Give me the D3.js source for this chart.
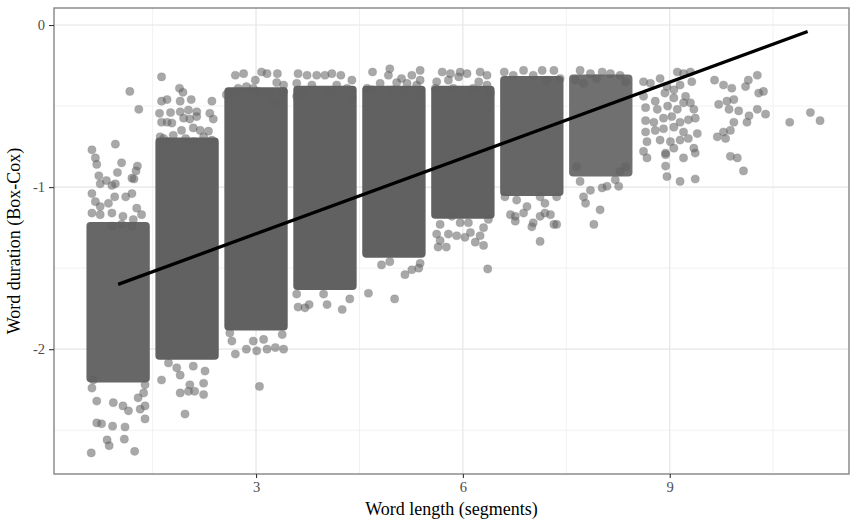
<!DOCTYPE html>
<html>
<head>
<meta charset="utf-8">
<script src="https://cdn.jsdelivr.net/npm/d3@7"></script>
<style>
  body { margin: 0; background: #fff; }
  svg { display: block; }
</style>
</head>
<body>
<svg></svg>
<script>
// word lengths (segments) and the extent of the solid jittered cloud in each column
const wordLength = [1, 2, 3, 4, 5, 6, 7, 8, 9, 10, 11];
const coreTop    = [-1.24, -0.72, -0.41, -0.40, -0.40, -0.40, -0.34, -0.33, null, null, null];
const coreBottom = [-2.18, -2.04, -1.86, -1.61, -1.41, -1.17, -1.03, -0.91, null, null, null];
const jitterHalf = 0.4;

// linear fit
const fitX = [1, 11];
const fitY = [-1.60, -0.04];

// axis ticks
const xTicks = [3, 6, 9];
const yTicks = [0, -1, -2];
const xMinor = [1.5, 4.5, 7.5, 10.5];
const yMinor = [-0.5, -1.5, -2.5];

// individual points outside the solid clouds [length (jittered), duration]
const strayPoints = [
  // 1
  [1.17,-0.41],[1.30,-0.52],[0.96,-0.735],[0.62,-0.77],[0.67,-0.82],[0.69,-0.86],[1.05,-0.85],[1.28,-0.87],
  [1.26,-0.90],[0.72,-0.93],[0.99,-0.91],[0.83,-0.96],[0.74,-0.98],[0.91,-0.99],[0.96,-0.98],[1.20,-0.945],
  [1.23,-0.95],[0.62,-1.04],[1.11,-1.06],[1.20,-1.04],[0.67,-1.09],[0.95,-1.06],[0.86,-1.10],[0.74,-1.12],
  [1.27,-1.13],[0.62,-1.16],[0.74,-1.17],[0.91,-1.16],[1.07,-1.18],[1.22,-1.20],[1.34,-1.17],[0.91,-1.24],
  [1.05,-1.23],[1.20,-1.24],[0.64,-2.19],[0.62,-2.24],[1.39,-2.22],[1.37,-2.27],[0.69,-2.32],[0.93,-2.33],
  [1.07,-2.35],[1.29,-2.30],[1.15,-2.38],[1.32,-2.37],[1.39,-2.35],[1.39,-2.43],[0.69,-2.455],[0.76,-2.46],
  [0.92,-2.475],[1.10,-2.48],[0.84,-2.56],[1.09,-2.555],[0.87,-2.595],[0.61,-2.64],[1.24,-2.63],
  // 2
  [1.63,-0.32],[1.89,-0.39],[1.94,-0.415],[1.63,-0.47],[1.71,-0.46],[1.90,-0.47],[2.06,-0.46],[2.36,-0.47],
  [1.60,-0.545],[1.76,-0.54],[1.90,-0.535],[2.02,-0.525],[2.14,-0.535],[2.33,-0.545],[2.38,-0.58],[1.63,-0.60],
  [1.71,-0.60],[1.78,-0.605],[1.95,-0.575],[2.04,-0.58],[2.14,-0.565],[1.61,-0.69],[1.92,-0.65],[2.09,-0.635],
  [2.19,-0.65],[2.31,-0.655],[1.66,-0.70],[1.80,-0.68],[1.98,-0.70],[2.24,-0.69],[2.36,-0.71],[1.72,-0.72],
  [2.10,-0.72],[1.63,-2.19],[1.73,-2.085],[1.85,-2.115],[1.90,-2.16],[2.09,-2.105],[2.26,-2.135],[2.24,-2.21],
  [2.04,-2.22],[1.90,-2.27],[2.02,-2.26],[2.11,-2.26],[2.24,-2.28],[1.97,-2.40],
  // 3
  [2.70,-0.31],[2.82,-0.30],[3.08,-0.29],[3.16,-0.30],[3.31,-0.30],[2.99,-0.34],[3.30,-0.355],[3.40,-0.37],
  [2.62,-0.42],[2.74,-0.39],[2.86,-0.38],[2.96,-0.39],[3.03,-0.41],[3.18,-0.42],[3.40,-0.41],[2.57,-0.43],
  [3.25,-0.48],[3.35,-0.47],[2.65,-1.95],[2.70,-2.03],[2.86,-2.00],[3.01,-2.01],[3.16,-2.00],[3.28,-1.99],
  [3.40,-2.00],[2.96,-1.95],[3.11,-1.94],[3.05,-2.23],[2.62,-1.90],[3.38,-1.91],
  // 4
  [3.61,-0.30],[3.74,-0.31],[3.88,-0.31],[4.00,-0.31],[4.10,-0.30],[4.23,-0.31],[4.39,-0.34],[3.59,-0.36],
  [3.81,-0.37],[4.17,-0.37],[4.32,-0.39],[3.69,-0.42],[4.07,-0.42],[4.39,-0.45],[3.59,-0.44],
  [3.61,-1.74],[3.71,-1.745],[3.77,-1.725],[4.03,-1.725],[4.25,-1.755],[4.36,-1.69],[3.98,-1.66],[3.59,-1.66],
  // 5
  [4.69,-0.29],[4.94,-0.27],[5.38,-0.28],[4.92,-0.31],[5.11,-0.33],[5.26,-0.31],[5.38,-0.34],[4.80,-0.36],
  [5.04,-0.355],[5.19,-0.36],[5.33,-0.37],[4.61,-0.39],[4.68,-0.40],[4.99,-0.40],[5.14,-0.41],[5.38,-0.42],
  [4.82,-1.48],[4.94,-1.46],[5.16,-1.54],[5.26,-1.51],[5.36,-1.50],[5.38,-1.47],[4.63,-1.655],[5.01,-1.69],
  // 6
  [5.70,-0.29],[5.82,-0.30],[5.96,-0.29],[6.06,-0.30],[6.25,-0.29],[6.35,-0.31],[5.62,-0.35],[5.79,-0.34],
  [5.94,-0.32],[6.23,-0.35],[6.35,-0.37],[5.60,-0.39],[5.86,-0.39],[6.15,-0.39],[6.40,-0.42],
  [5.62,-1.29],[5.67,-1.33],[5.64,-1.37],[5.76,-1.37],[5.79,-1.29],[5.91,-1.30],[6.03,-1.31],[6.11,-1.28],
  [6.18,-1.34],[6.25,-1.30],[6.30,-1.36],[6.30,-1.25],[6.37,-1.20],[5.84,-1.18],[5.96,-1.22],[6.08,-1.22],
  [5.67,-1.23],[6.36,-1.505],
  // 7
  [6.60,-0.29],[6.88,-0.28],[7.15,-0.28],[7.32,-0.28],[6.73,-0.31],[7.02,-0.31],[7.22,-0.34],[7.41,-0.33],
  [6.61,-1.06],[6.78,-1.08],[6.93,-1.12],[7.12,-1.06],[7.19,-1.10],[7.36,-1.06],[6.69,-1.17],[6.76,-1.18],
  [6.88,-1.16],[7.02,-1.22],[7.12,-1.18],[7.19,-1.16],[7.27,-1.17],[7.32,-1.23],[7.36,-1.23],[6.76,-1.21],
  [7.12,-1.335],[7.00,-1.245],
  // 8
  [7.70,-0.28],[7.85,-0.30],[8.02,-0.29],[8.14,-0.30],[8.28,-0.31],[8.36,-0.35],[7.63,-0.34],[7.75,-0.36],
  [7.94,-0.33],[7.70,-0.965],[7.85,-1.02],[8.02,-1.005],[8.09,-0.995],[8.26,-0.995],[8.28,-0.905],[8.36,-0.875],
  [7.75,-1.06],[7.78,-1.10],[7.99,-1.14],[7.90,-1.23],[8.21,-0.955],[7.65,-0.875],
  // 9
  [8.62,-0.35],[8.72,-0.36],[8.86,-0.33],[9.11,-0.29],[9.20,-0.30],[9.30,-0.29],[9.32,-0.35],[8.96,-0.38],
  [9.06,-0.40],[9.15,-0.37],[8.62,-0.44],[8.79,-0.47],[8.93,-0.42],[9.06,-0.45],[9.23,-0.44],[9.30,-0.48],
  [8.65,-0.51],[8.82,-0.52],[8.97,-0.50],[9.11,-0.52],[9.20,-0.48],[9.35,-0.52],[8.65,-0.59],[8.77,-0.60],
  [8.91,-0.575],[9.03,-0.565],[9.15,-0.60],[9.27,-0.585],[9.37,-0.575],[8.65,-0.66],[8.79,-0.65],[8.91,-0.64],
  [9.06,-0.63],[9.20,-0.66],[9.40,-0.67],[8.67,-0.72],[8.86,-0.71],[9.01,-0.72],[9.15,-0.71],[9.27,-0.70],
  [8.62,-0.78],[8.94,-0.79],[9.06,-0.76],[9.35,-0.76],[8.67,-0.82],[8.94,-0.80],[9.20,-0.82],[9.37,-0.79],
  [8.94,-0.87],[8.96,-0.935],[9.15,-0.965],[9.37,-0.95],
  // 10
  [9.65,-0.34],[9.78,-0.37],[9.90,-0.39],[10.14,-0.34],[10.27,-0.31],[10.10,-0.38],[10.29,-0.42],[10.36,-0.41],
  [9.71,-0.49],[9.83,-0.47],[9.93,-0.46],[9.86,-0.52],[10.00,-0.53],[10.15,-0.56],[10.27,-0.52],[10.39,-0.55],
  [10.12,-0.60],[9.93,-0.60],[9.88,-0.65],[9.78,-0.66],[9.69,-0.69],[9.81,-0.70],[9.88,-0.81],[9.98,-0.82],
  [10.07,-0.90],
  // 11
  [10.74,-0.60],[11.04,-0.54],[11.18,-0.59]
];

const width = 850, height = 521;
const margin = { top: 8, right: 1, bottom: 47, left: 54 };
const pointColor = "#616161", pointAlpha = 0.55, r = 4.1;
// columns where the cloud is not fully saturated
const coreOpacity = { 1: 0.96, 7: 0.97, 8: 0.9 };

const svg = d3.select("svg").attr("width", width).attr("height", height);

const x = d3.scaleLinear().domain([0.07, 11.6]).range([margin.left, width - margin.right]);
const y = d3.scaleLinear().domain([-2.77, 0.105]).range([height - margin.bottom, margin.top]);

const x0 = margin.left, x1 = width - margin.right;
const y0 = margin.top, y1 = height - margin.bottom;

// grid
const grid = svg.append("g");
grid.selectAll(".xminor").data(xMinor).enter().append("line")
  .attr("x1", d => x(d)).attr("x2", d => x(d)).attr("y1", y0).attr("y2", y1)
  .attr("stroke", "#eeeeee").attr("stroke-width", 0.8);
grid.selectAll(".yminor").data(yMinor).enter().append("line")
  .attr("y1", d => y(d)).attr("y2", d => y(d)).attr("x1", x0).attr("x2", x1)
  .attr("stroke", "#eeeeee").attr("stroke-width", 0.8);
grid.selectAll(".xmajor").data(xTicks).enter().append("line")
  .attr("x1", d => x(d)).attr("x2", d => x(d)).attr("y1", y0).attr("y2", y1)
  .attr("stroke", "#e6e6e6").attr("stroke-width", 1.2);
grid.selectAll(".ymajor").data(yTicks).enter().append("line")
  .attr("y1", d => y(d)).attr("y2", d => y(d)).attr("x1", x0).attr("x2", x1)
  .attr("stroke", "#e6e6e6").attr("stroke-width", 1.2);

// solid clouds
const cores = wordLength.map((len, i) => ({ len, top: coreTop[i], bottom: coreBottom[i] }))
  .filter(d => d.top !== null);

svg.append("g").selectAll("rect").data(cores).enter().append("rect")
  .attr("x", d => x(d.len - jitterHalf) - r)
  .attr("y", d => y(d.top) - r)
  .attr("width", d => x(d.len + jitterHalf) - x(d.len - jitterHalf) + 2 * r)
  .attr("height", d => y(d.bottom) - y(d.top) + 2 * r)
  .attr("rx", r).attr("ry", r)
  .attr("fill", pointColor)
  .attr("fill-opacity", d => coreOpacity[d.len] || 1);

// stray points
svg.append("g").selectAll("circle").data(strayPoints).enter().append("circle")
  .attr("cx", d => x(d[0]))
  .attr("cy", d => y(d[1]))
  .attr("r", r)
  .attr("fill", pointColor)
  .attr("fill-opacity", pointAlpha)
  .attr("stroke", pointColor)
  .attr("stroke-opacity", 0.25)
  .attr("stroke-width", 0.8);

// fit line
svg.append("line")
  .attr("x1", x(fitX[0])).attr("y1", y(fitY[0]))
  .attr("x2", x(fitX[1])).attr("y2", y(fitY[1]))
  .attr("stroke", "#000").attr("stroke-width", 3.3);

// panel border
svg.append("rect")
  .attr("x", x0).attr("y", y0)
  .attr("width", x1 - x0).attr("height", y1 - y0)
  .attr("fill", "none").attr("stroke", "#858585").attr("stroke-width", 1.4);

// axes
const font = "'Liberation Serif', 'Times New Roman', serif";

const xAxis = svg.append("g")
  .attr("transform", `translate(0,${y1})`)
  .call(d3.axisBottom(x).tickValues(xTicks).tickSize(4).tickPadding(4).tickFormat(d3.format("d")));
const yAxis = svg.append("g")
  .attr("transform", `translate(${x0},0)`)
  .call(d3.axisLeft(y).tickValues(yTicks).tickSize(5).tickPadding(4).tickFormat(d => d === 0 ? "0" : "-" + Math.abs(d)));

[xAxis, yAxis].forEach(a => {
  a.select(".domain").remove();
  a.selectAll(".tick line").attr("stroke", "#333").attr("stroke-width", 1.1);
  a.selectAll(".tick text")
    .attr("fill", "#4d4d4d")
    .style("font-family", font)
    .style("font-size", "14.5px");
});

svg.append("text")
  .attr("x", (x0 + x1) / 2).attr("y", 515)
  .attr("text-anchor", "middle")
  .style("font-family", font).style("font-size", "18px")
  .attr("fill", "#000")
  .text("Word length (segments)");

svg.append("text")
  .attr("transform", `translate(20,${(y0 + y1) / 2}) rotate(-90)`)
  .attr("text-anchor", "middle")
  .style("font-family", font).style("font-size", "18px")
  .attr("fill", "#000")
  .text("Word duration (Box-Cox)");
</script>
</body>
</html>
